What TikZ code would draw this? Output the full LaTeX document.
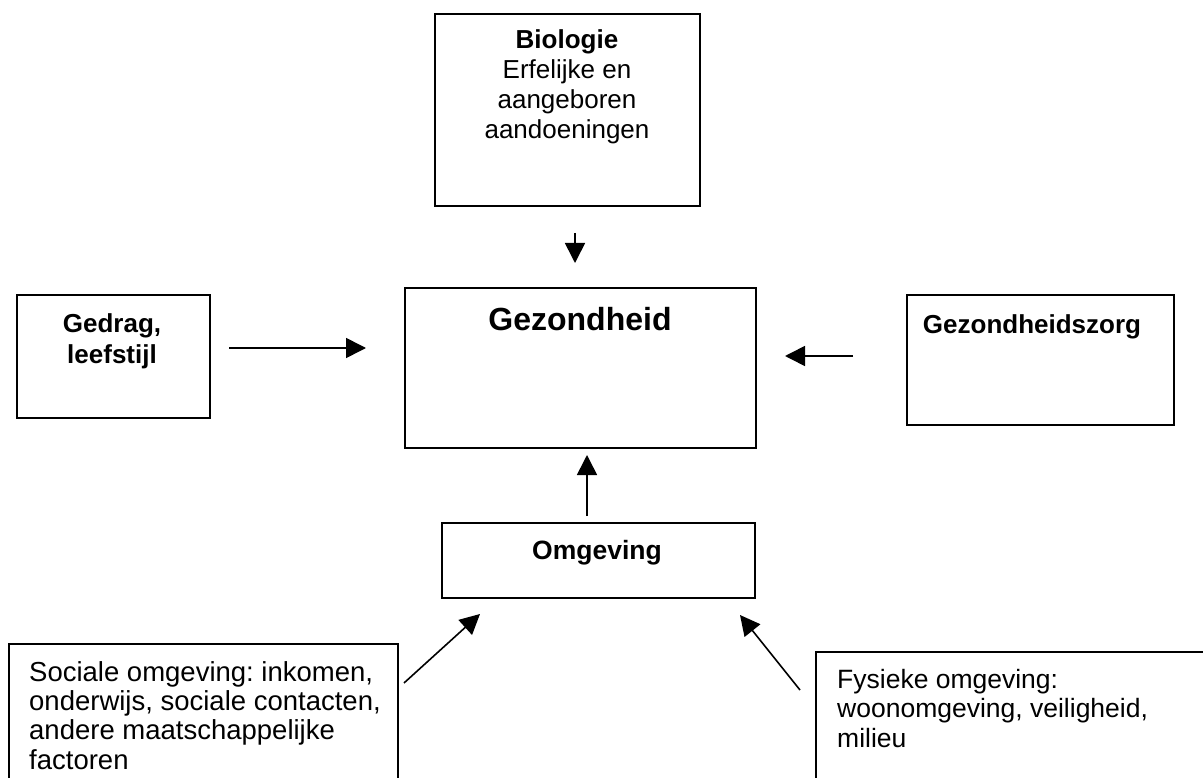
\documentclass[tikz,border=0pt]{standalone}
\usepackage{fontspec}
\setmainfont{Liberation Sans}
\usetikzlibrary{arrows.meta}
\frenchspacing
\begin{document}
\begin{tikzpicture}[x=1pt,y=-1pt,
  box/.style={draw, line width=1.6pt, inner sep=0pt, anchor=north west},
  txt/.style={inner sep=0pt, anchor=north, align=center, font=\fontsize{26}{30}\selectfont},
  ltxt/.style={inner sep=0pt, anchor=north west, align=left, font=\fontsize{27.5}{29.3}\selectfont},
  arr/.style={line width=1.6pt, -{Triangle[length=20pt,width=20pt]}}]
\useasboundingbox (0,0) rectangle (1203,778);
\begin{scope}
\clip (0,0) rectangle (1203,778);
% boxes
\node[box, minimum width=265, minimum height=192] (bio) at (434,13) {};
\node[box, minimum width=193, minimum height=123] (gedrag) at (16,294) {};
\node[box, minimum width=351, minimum height=160] (gez) at (404,287) {};
\node[box, minimum width=267, minimum height=130] (zorg) at (906,294) {};
\node[box, minimum width=313, minimum height=75] (omg) at (441,522) {};
\node[box, minimum width=389, minimum height=200] (soc) at (8,643) {};
\node[box, minimum width=420, minimum height=200] (fys) at (815,651) {};
\end{scope}
% texts
\node[txt] (biot) at (567,29) {\textbf{Biologie}\\Erfelijke en\\aangeboren\\aandoeningen};
\node[txt, font=\fontsize{26}{31.5}\selectfont\bfseries] (gedragt) at (112,313) {Gedrag,\\leefstijl};
\node[txt, font=\fontsize{32}{36}\selectfont\bfseries] (gezt) at (580,307) {Gezondheid};
\node[txt, font=\fontsize{26}{30}\selectfont\bfseries] (zorgt) at (1032,314) {Gezondheidszorg};
\node[txt, font=\fontsize{26.5}{30}\selectfont\bfseries] (omgt) at (597,540) {Omgeving};
\node[ltxt] (soct) at (29,661) {Sociale omgeving: inkomen,\\onderwijs, sociale contacten,\\andere maatschappelijke\\factoren};
\node[ltxt, font=\fontsize{26.5}{29.5}\selectfont] (fyst) at (837,669) {Fysieke omgeving:\\woonomgeving, veiligheid,\\milieu};
% arrow end points
\coordinate (a1s) at (575,233); \coordinate (a1e) at (575,263);
\coordinate (a2s) at (229,348); \coordinate (a2e) at (366,348);
\coordinate (a3s) at (853,356); \coordinate (a3e) at (785,356);
\coordinate (a4s) at (587,516); \coordinate (a4e) at (587,455);
\coordinate (a5s) at (404,683); \coordinate (a5e) at (480,614);
\coordinate (a6s) at (800,690); \coordinate (a6e) at (740,615);
\draw[arr] (a1s) -- (a1e);
\draw[arr] (a2s) -- (a2e);
\draw[arr] (a3s) -- (a3e);
\draw[arr] (a4s) -- (a4e);
\draw[arr] (a5s) -- (a5e);
\draw[arr] (a6s) -- (a6e);
\end{tikzpicture}
\end{document}
